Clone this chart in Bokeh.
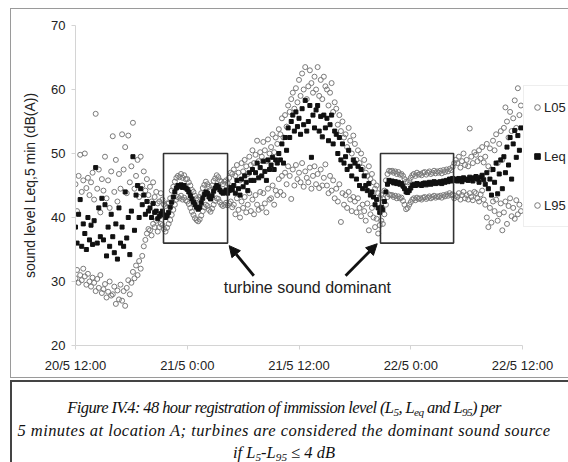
from bokeh.plotting import figure
from bokeh.models import (ColumnDataSource, FixedTicker, Legend, LegendItem, Arrow,
                          NormalHead, Div)
from bokeh.layouts import column
from bokeh.core.properties import value
from bokeh.embed import file_html
from bokeh.resources import INLINE

# ---- data: 10-minute samples, 20/5 12:00 -> 22/5 12:00 (hours since start) ----
tick_hours = [0, 12, 24, 36, 48]
tick_labels = ["20/5 12:00", "21/5 0:00", "21/5 12:00", "22/5 0:00", "22/5 12:00"]
y_ticks = [20, 30, 40, 50, 60, 70]

L05 = [
    45.2, 41.0, 46.5, 49.8, 44.0, 45.8,  50.0, 44.6, 46.2, 43.5, 45.5, 47.0,
    42.8, 56.2, 44.5, 47.5, 40.8, 46.0,  44.2, 49.5, 43.0, 45.8, 41.5, 47.2,
    52.7, 44.0, 49.0, 42.5, 46.8, 44.5,  53.0, 47.5, 51.0, 43.8, 52.8, 45.5,
    48.0, 54.8, 44.5, 46.5, 49.0, 43.2,  49.5, 45.0, 47.2, 44.2, 46.0, 43.5,
    44.8, 42.5, 45.5, 43.2, 44.0, 42.2,  42.5, 43.8, 42.8, 42.0, 41.8, 42.2,
    42.2, 43.0, 44.2, 44.8, 45.6, 46.2,  46.5, 46.3, 46.8, 46.2, 46.6, 46.0,
    46.0, 45.5, 45.0, 44.3, 44.0, 43.4,  43.0, 42.8, 43.2, 43.8, 44.6, 45.1,
    45.6, 45.2, 44.8, 44.3, 45.0, 45.7,  46.1, 46.6, 46.3, 45.8, 45.6, 45.2,
    45.6, 45.8, 45.4, 46.2, 47.0, 46.8,  47.5, 46.5, 48.2, 47.0, 45.8, 48.5,
    47.2, 49.0, 48.0, 46.8, 49.5, 48.2,  50.5, 48.5, 49.8, 52.0, 48.8, 50.2,
    49.5, 51.8, 50.5, 48.8, 52.2, 50.0,  51.0, 53.0, 50.2, 52.5, 51.5, 53.8,
    53.0, 55.5, 52.5, 56.0, 54.2, 57.5,  56.5, 58.5, 59.5, 57.0, 60.2, 58.0,
    61.5, 59.0, 62.5, 60.0, 63.5, 58.5,  60.5, 63.0, 61.0, 59.5, 62.0, 60.0,
    63.5, 59.0, 61.5, 58.5, 62.0, 60.5,  60.0, 57.5, 59.5, 61.0, 56.5, 58.0,
    57.0, 54.5, 56.0, 53.5, 55.0, 52.5,  53.0, 51.0, 54.0, 52.0, 50.0, 52.8,
    51.5, 49.0, 50.5, 48.5, 50.0, 47.8,  49.0, 47.0, 46.5, 48.0, 46.0, 46.8,
    45.5, 44.5, 45.0, 43.8, 43.0, 43.5,  43.0, 44.2, 45.8, 46.8, 47.3, 47.2,
    47.3, 47.0, 47.2, 46.8, 47.1, 46.7,  46.8, 46.5, 46.0, 45.6, 45.5, 45.8,
    46.2, 46.6, 46.8, 46.5, 47.0, 46.7,  46.8, 46.6, 47.0, 47.1, 46.7, 47.0,
    47.2, 46.8, 47.0, 47.3, 46.9, 47.2,  47.0, 47.3, 46.9, 47.4, 47.1, 47.5,
    47.2, 47.6, 47.4, 47.9, 48.5, 49.0,  48.5, 49.5, 47.8, 48.8, 50.0, 48.2,
    49.0, 48.0, 53.9, 49.5, 48.5, 50.2,  49.8, 48.8, 50.5, 49.2, 51.0, 48.6,
    49.5, 51.5, 48.0, 50.8, 47.5, 52.0,  50.5, 53.0, 48.5, 51.5, 53.5, 49.0,
    54.0, 57.2, 55.0, 52.5, 56.5, 53.5,  55.5, 58.3, 54.0, 60.2, 56.0, 57.5,
]

Leq = [
    38.5, 36.0, 40.5, 42.8, 35.5, 39.0,  37.5, 35.0, 40.0, 36.5, 38.8, 35.8,
    39.5, 47.8, 36.0, 41.5, 37.0, 43.0,  36.5, 42.0, 34.0, 38.5, 35.5, 40.5,
    37.0, 34.5, 39.0, 33.5, 41.5, 36.0,  38.5, 35.5, 44.0, 36.8, 40.0, 34.2,
    41.0, 49.5, 38.0, 43.5, 45.0, 40.0,  44.5, 42.0, 43.5, 40.5, 42.5, 41.0,
    41.5, 40.0, 42.2, 40.8, 41.0, 39.8,  40.2, 40.6, 41.0, 40.4, 40.0, 40.3,
    40.8, 41.6, 42.4, 43.2, 44.0, 44.6,  45.0, 44.8, 45.1, 44.7, 45.0, 44.6,
    44.4, 44.0, 43.4, 42.9, 42.4, 42.0,  41.6, 41.3, 41.6, 42.3, 43.0, 43.6,
    44.0, 43.8, 43.2, 42.9, 43.4, 44.1,  44.6, 45.0, 44.8, 44.3, 44.0, 43.8,
    44.0, 44.3, 43.8, 44.2, 44.7, 44.3,  45.0, 43.8, 45.8, 44.5, 43.5, 46.0,
    44.8, 46.5, 45.5, 44.2, 47.0, 45.8,  47.5, 45.8, 47.0, 48.5, 46.2, 47.8,
    46.5, 48.8, 47.2, 45.8, 49.0, 47.5,  48.2, 49.4, 47.5, 49.0, 48.5, 50.0,
    49.0, 51.5, 48.5, 52.5, 50.5, 54.0,  52.5, 55.0, 56.0, 53.5, 56.5, 54.2,
    55.5, 53.0, 57.0, 54.5, 58.3, 53.5,  55.0, 57.5, 49.4, 56.0, 54.0, 56.8,
    57.5, 53.5, 55.8, 52.6, 56.0, 54.0,  55.5, 52.0, 54.5, 56.0, 51.5, 53.5,
    53.0, 50.0, 52.5, 49.0, 51.5, 48.5,  49.5, 47.5, 50.5, 48.0, 46.5, 49.0,
    48.5, 46.0, 48.0, 45.0, 47.5, 44.5,  46.5, 45.0, 44.2, 45.3, 43.5, 44.0,
    43.2, 42.0, 42.8, 41.5, 40.8, 41.6,  41.2, 42.5, 44.0, 45.2, 45.8, 45.6,
    45.7, 45.4, 45.6, 45.3, 45.5, 45.2,  45.3, 44.9, 44.5, 44.0, 43.9, 44.2,
    44.6, 45.0, 45.2, 45.0, 45.3, 45.1,  45.2, 45.0, 45.3, 45.4, 45.1, 45.3,
    45.5, 45.2, 45.4, 45.6, 45.3, 45.5,  45.4, 45.6, 45.3, 45.7, 45.5, 45.8,
    45.6, 46.0, 45.7, 46.1, 45.8, 46.0,  45.7, 46.1, 45.9, 45.6, 46.2, 45.9,
    46.0, 45.8, 46.3, 46.1, 45.7, 46.2,  46.4, 46.0, 45.5, 46.3, 46.6, 45.9,
    45.2, 47.0, 44.5, 46.0, 43.5, 47.5,  45.5, 48.5, 43.7, 46.8, 49.0, 44.5,
    49.5, 47.0, 51.0, 48.2, 52.5, 46.0,  51.5, 53.6, 49.4, 52.8, 50.5, 54.0,
]

L95 = [
    30.5, 31.8, 29.8, 31.0, 30.2, 32.0,  30.8, 29.5, 31.2, 30.0, 29.2, 30.6,
    29.8, 28.5, 30.4, 29.0, 31.0, 28.2,  28.8, 29.6, 27.5, 28.4, 30.0, 27.8,
    28.0, 29.2, 26.5, 28.6, 27.2, 29.5,  27.0, 28.5, 26.2, 29.0, 30.2, 28.0,
    29.8, 31.5, 30.5, 32.5, 31.0, 33.2,  32.0, 34.0, 35.5, 36.5, 37.5, 38.2,
    38.0, 37.2, 39.0, 38.5, 39.5, 37.8,  38.5, 39.0, 38.8, 38.2, 37.8, 38.4,
    39.0, 39.6, 40.4, 41.2, 42.0, 42.8,  43.2, 43.0, 43.4, 42.8, 43.1, 42.7,
    42.5, 42.1, 41.5, 40.9, 40.4, 39.9,  39.6, 39.4, 39.7, 40.3, 41.0, 41.6,
    42.0, 41.8, 41.2, 40.9, 41.4, 42.0,  42.6, 43.0, 42.9, 42.4, 42.0, 41.8,
    42.0, 42.3, 41.9, 42.2, 42.5, 41.6,  42.0, 40.5, 43.0, 41.2, 40.0, 42.5,
    41.5, 43.2, 40.8, 42.0, 43.8, 41.0,  42.8, 40.5, 43.5, 42.0, 41.2, 44.0,
    41.5, 43.8, 42.2, 40.8, 44.5, 42.8,  43.0, 45.0, 42.0, 44.2, 43.5, 46.0,
    44.0, 46.5, 43.5, 47.0, 45.2, 48.0,  46.5, 42.9, 47.5, 45.0, 48.2, 46.0,
    47.0, 45.5, 48.5, 44.8, 47.2, 46.2,  45.5, 47.8, 44.5, 46.5, 48.0, 45.2,
    46.8, 44.6, 47.5, 45.0, 46.2, 48.3,  45.0, 43.8, 46.5, 44.2, 45.8, 43.0,
    44.5, 42.5, 45.2, 39.3, 43.8, 42.0,  43.5, 41.5, 44.0, 42.8, 41.0, 43.2,
    42.5, 40.8, 43.0, 41.5, 40.2, 42.0,  41.0, 39.5, 42.2, 38.0, 40.5, 41.5,
    40.0, 38.5, 39.8, 37.5, 38.8, 39.5,  39.0, 40.5, 42.0, 43.2, 43.6, 43.5,
    43.5, 43.2, 43.4, 43.0, 43.3, 43.0,  43.1, 42.6, 42.0, 41.3, 41.5, 42.0,
    42.4, 42.8, 43.0, 42.7, 43.1, 42.9,  43.0, 42.8, 43.1, 43.2, 42.9, 43.1,
    43.3, 43.0, 43.2, 43.4, 43.1, 43.3,  43.2, 43.4, 43.1, 43.5, 43.3, 43.6,
    43.4, 43.8, 43.5, 43.6, 43.0, 43.4,  43.2, 43.8, 42.8, 43.5, 44.0, 43.0,
    43.5, 42.8, 43.8, 43.2, 42.7, 44.0,  43.8, 43.0, 42.5, 43.6, 44.2, 42.8,
    42.0, 40.0, 38.5, 41.5, 39.2, 42.5,  41.0, 42.8, 39.5, 40.5, 42.2, 38.0,
    40.8, 42.5, 39.0, 41.8, 43.0, 40.2,  41.5, 39.8, 42.7, 40.5, 42.0, 41.0,
]

hours = [i / 6 for i in range(len(Leq))]
src = ColumnDataSource(dict(t=hours, l05=L05, leq=Leq, l95=L95))

FONT = "Liberation Sans"

# frame spans x 75..568 px; the time axis itself covers 0..48 h (75..522 px)
x_end = 48 * (568 - 75) / (522 - 75)
p = figure(width=568, height=380, x_range=(0, x_end), y_range=(20, 70),
           output_backend="svg", toolbar_location=None,
           min_border_left=75, min_border_right=0, min_border_top=25, min_border_bottom=35)
p.outline_line_color = None
p.grid.visible = False
p.background_fill_color = "white"
p.border_fill_color = "white"

for ax in (p.xaxis[0], p.yaxis[0]):
    ax.axis_line_color = "#d4d4d4"
    ax.major_tick_line_color = "#d4d4d4"
    ax.major_tick_out = 4
    ax.major_tick_in = 0
    ax.minor_tick_line_color = None
    ax.major_label_text_font = FONT
    ax.major_label_text_font_size = "13px"
    ax.major_label_text_color = "#222222"

p.xaxis.bounds = (0, 48)
p.xaxis.ticker = FixedTicker(ticks=tick_hours)
p.xaxis.major_label_overrides = {h: lab for h, lab in zip(tick_hours, tick_labels)}
p.xaxis.major_label_standoff = 8
p.yaxis.ticker = FixedTicker(ticks=y_ticks)
p.yaxis.major_label_standoff = 6
p.yaxis.axis_label = "sound level Leq,5 min (dB(A))"
p.yaxis.axis_label_text_font = FONT
p.yaxis.axis_label_text_font_size = "14px"
p.yaxis.axis_label_text_font_style = "normal"
p.yaxis.axis_label_text_color = "#222222"
p.yaxis.axis_label_standoff = 10

r05 = p.scatter("t", "l05", source=src, marker="circle", size=5,
                line_color="#7a7a7a", fill_color=None, line_width=1)
r95 = p.scatter("t", "l95", source=src, marker="circle", size=5,
                line_color="#7a7a7a", fill_color=None, line_width=1)
req = p.scatter("t", "leq", source=src, marker="square", size=4,
                line_color="#111111", fill_color="#111111")

# highlighted "turbine dominant" periods
p.quad(left=[9.45, 32.75], right=[16.33, 40.6], bottom=[36, 36], top=[50, 50],
       fill_color=None, line_color="#333333", line_width=1.6)

head = dict(size=11, fill_color="#111111", line_color="#111111")
p.add_layout(Arrow(end=NormalHead(**head), x_start=19.15, y_start=30.9, x_end=16.5, y_end=35.6,
                   line_color="#111111", line_width=2.8))
p.add_layout(Arrow(end=NormalHead(**head), x_start=29.0, y_start=30.9, x_end=32.4, y_end=35.9,
                   line_color="#111111", line_width=2.8))
p.text(x=[24.9], y=[29.1], text=["turbine sound dominant"], text_font=value(FONT),
       text_font_size="16px", text_align="center", text_baseline="middle", text_color="#222222")

legend = Legend(items=[LegendItem(label="L05", renderers=[r05]),
                       LegendItem(label="Leq", renderers=[req]),
                       LegendItem(label="L95", renderers=[r95])],
                location=(448, 118), border_line_color="#dddddd", background_fill_color="white",
                label_text_font=FONT, label_text_font_size="13px", label_text_color="#222222",
                glyph_width=14, glyph_height=30, label_height=30, spacing=19, padding=6,
                label_standoff=0, margin=0)
p.add_layout(legend)

caption = Div(width=558, height=82, margin=(0, 0, 0, 10), text=(
    '<style>sub{font-size:68%;line-height:0;vertical-align:-0.3em;}</style>'
    '<div style="position:fixed;left:10px;top:8px;width:600px;height:370px;'
    'border:1.5px solid #9a9a9a;box-sizing:border-box;pointer-events:none;"></div>'
    '<div style="box-sizing:border-box;width:558px;height:82px;border-top:2px solid #444;'
    'border-left:2px solid #444;padding:15px 12px 0 0;text-align:center;white-space:nowrap;'
    'font-family:\'Liberation Serif\',serif;font-style:italic;font-size:16.5px;line-height:22.5px;color:#111;">'
    '<span style="letter-spacing:-0.6px;">Figure IV.4: 48 hour registration of immission level '
    '(L<sub>5</sub>, L<sub>eq</sub> and L<sub>95</sub>) per</span><br>'
    '<span style="letter-spacing:0.45px;">5 minutes at location A; turbines are considered the dominant sound source</span><br>'
    'if L<sub>5</sub>-L<sub>95</sub> &le; 4 dB</div>'))

layout = column(p, caption, spacing=0)
open("out.html", "w").write(file_html(layout, INLINE))
